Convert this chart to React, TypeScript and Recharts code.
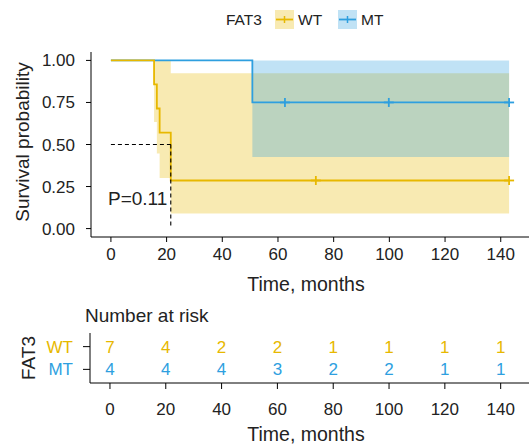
import React from "react";
import { ComposedChart, Line, Area, Scatter, XAxis, YAxis, ReferenceLine } from "recharts";

const YELLOW = "#E7B800";
const BLUE = "#2E9FDF";
const INK = "#222222";
const FONT = "'Liberation Sans', Arial, Helvetica, sans-serif";

const TIME_TICKS = [0, 20, 40, 60, 80, 100, 120, 140];
const SURV_TICKS = [0, 0.25, 0.5, 0.75, 1];
const TIME_DOMAIN = [-7.15, 150.15];

// WT (step curve + log CI)
const WT_TIME = [0, 15.5, 16.5, 17.5, 21.5, 143];
const WT_SURV = [1, 0.857, 0.714, 0.571, 0.286, 0.286];
const WT_LOWER = [1, 0.634, 0.447, 0.301, 0.089, 0.089];
const WT_UPPER = [1, 1, 1, 1, 0.923, 0.923];
const WT_CENSOR = [73.6, 143];

// MT
const MT_TIME = [0, 50.8, 143];
const MT_SURV = [1, 0.75, 0.75];
const MT_LOWER = [1, 0.426, 0.426];
const MT_UPPER = [1, 1, 1];
const MT_CENSOR = [62.5, 99.8, 143];

const MEDIAN_WT = 21.5;
const P_LABEL = "P=0.11";

// number at risk
const RISK_GROUPS = ["MT", "WT"]; // bottom row first
const WT_RISK = [7, 4, 2, 2, 1, 1, 1, 1];
const MT_RISK = [4, 4, 4, 3, 2, 2, 1, 1];

const curve = (time: number[], surv: number[], lo: number[], hi: number[]) =>
  time.map((t, i) => ({ t, s: surv[i], range: [lo[i], hi[i]] }));

const survAt = (time: number[], surv: number[], t: number) => {
  let v = surv[0];
  time.forEach((tt, i) => {
    if (tt <= t) v = surv[i];
  });
  return v;
};

const wtData = curve(WT_TIME, WT_SURV, WT_LOWER, WT_UPPER);
const mtData = curve(MT_TIME, MT_SURV, MT_LOWER, MT_UPPER);
const wtCensor = WT_CENSOR.map((t) => ({ t, s: survAt(WT_TIME, WT_SURV, t) }));
const mtCensor = MT_CENSOR.map((t) => ({ t, s: survAt(MT_TIME, MT_SURV, t) }));

const riskRows = [
  ...TIME_TICKS.map((t, i) => ({ t, row: 2, n: WT_RISK[i], color: YELLOW })),
  ...TIME_TICKS.map((t, i) => ({ t, row: 1, n: MT_RISK[i], color: BLUE })),
];

function Plus(color: string) {
  return (props: any) => {
    const { cx, cy } = props;
    if (cx == null || cy == null) return <g />;
    return (
      <g stroke={color} strokeWidth={1.8}>
        <line x1={cx - 5} x2={cx + 5} y1={cy} y2={cy} />
        <line x1={cx} x2={cx} y1={cy - 4.5} y2={cy + 4.5} />
      </g>
    );
  };
}

function RiskNumber(props: any) {
  const { cx, cy, payload } = props;
  if (cx == null || cy == null) return <g />;
  return (
    <text x={cx} y={cy} dy="0.36em" textAnchor="middle" fontSize={17} fontFamily={FONT} fill={payload.color}>
      {payload.n}
    </text>
  );
}

function RowTick(props: any) {
  const { x, y, payload } = props;
  const name = RISK_GROUPS[payload.value - 1];
  return (
    <text x={x} y={y} dy="0.36em" textAnchor="end" fontSize={17} fontFamily={FONT} fill={name === "WT" ? YELLOW : BLUE}>
      {name}
    </text>
  );
}

function Key({ color }: { color: string }) {
  return (
    <svg width={19} height={19} style={{ display: "block" }}>
      <rect x={0} y={0} width={19} height={19} fill={color} fillOpacity={0.3} />
      <line x1={1} x2={18} y1={9.5} y2={9.5} stroke={color} strokeWidth={1.8} />
      <line x1={9.5} x2={9.5} y1={6} y2={13} stroke={color} strokeWidth={1.5} />
    </svg>
  );
}

const tickStyle = { fontSize: 17, fill: INK, fontFamily: FONT };
const abs = (s: React.CSSProperties): React.CSSProperties => ({
  position: "absolute",
  fontFamily: FONT,
  color: INK,
  whiteSpace: "nowrap",
  lineHeight: 1,
  ...s,
});

export default function App() {
  return (
    <div style={{ position: "absolute", left: 0, top: 0, width: 531, height: 446, background: "#fff", overflow: "hidden" }}>
      {/* legend */}
      <div style={abs({ left: 226, top: 12, fontSize: 15.5 })}>FAT3</div>
      <div style={abs({ left: 275, top: 10 })}><Key color={YELLOW} /></div>
      <div style={abs({ left: 298, top: 12, fontSize: 15.5 })}>WT</div>
      <div style={abs({ left: 338, top: 10 })}><Key color={BLUE} /></div>
      <div style={abs({ left: 361, top: 12, fontSize: 15.5 })}>MT</div>

      {/* survival plot */}
      <div style={{ position: "absolute", left: 0, top: 0 }}>
        <ComposedChart width={531} height={300} margin={{ top: 52, right: 2, bottom: 0, left: 0 }}>
          <XAxis
            dataKey="t"
            type="number"
            domain={TIME_DOMAIN}
            ticks={TIME_TICKS}
            interval={0}
            allowDataOverflow
            height={63}
            tick={tickStyle}
            tickSize={5}
            tickMargin={6}
            axisLine={{ stroke: "#000", strokeWidth: 1 }}
            tickLine={{ stroke: "#000" }}
          />
          <YAxis
            dataKey="s"
            type="number"
            domain={[-0.05, 1.05]}
            ticks={SURV_TICKS}
            interval={0}
            allowDataOverflow
            width={91}
            tick={tickStyle}
            tickFormatter={(v: number) => v.toFixed(2)}
            tickSize={5}
            tickMargin={11}
            axisLine={{ stroke: "#000", strokeWidth: 1 }}
            tickLine={{ stroke: "#000" }}
          />
          <Area data={wtData} dataKey="range" type="stepAfter" stroke="none" fill={YELLOW} fillOpacity={0.3} isAnimationActive={false} />
          <Area data={mtData} dataKey="range" type="stepAfter" stroke="none" fill={BLUE} fillOpacity={0.3} isAnimationActive={false} />
          <Line data={mtData} dataKey="s" type="stepAfter" stroke={BLUE} strokeWidth={1.8} dot={false} activeDot={false} isAnimationActive={false} />
          <Line data={wtData} dataKey="s" type="stepAfter" stroke={YELLOW} strokeWidth={1.8} dot={false} activeDot={false} isAnimationActive={false} />
          <Scatter data={mtCensor} dataKey="s" shape={Plus(BLUE)} isAnimationActive={false} />
          <Scatter data={wtCensor} dataKey="s" shape={Plus(YELLOW)} isAnimationActive={false} />
          <ReferenceLine
            segment={[{ x: 0, y: 0.5 }, { x: MEDIAN_WT, y: 0.5 }]}
            stroke="#000"
            strokeWidth={1.1}
            strokeDasharray="4 3"
          />
          <ReferenceLine
            segment={[{ x: MEDIAN_WT, y: 0.5 }, { x: MEDIAN_WT, y: 0 }]}
            stroke="#000"
            strokeWidth={1.1}
            strokeDasharray="4 3"
          />
        </ComposedChart>
      </div>
      <div style={abs({ left: 108, top: 189, fontSize: 19 })}>{P_LABEL}</div>
      <div style={abs({ left: 22, top: 142, fontSize: 19, transform: "translate(-50%, -50%) rotate(-90deg)" })}>
        Survival probability
      </div>
      <div style={abs({ left: 306, top: 285, fontSize: 19.5, transform: "translate(-50%, -50%)" })}>Time, months</div>

      {/* risk table */}
      <div style={abs({ left: 85, top: 306, fontSize: 19 })}>Number at risk</div>
      <div style={{ position: "absolute", left: 0, top: 320 }}>
        <ComposedChart width={531} height={110} margin={{ top: 13, right: 2, bottom: 0, left: 0 }}>
          <XAxis
            dataKey="t"
            type="number"
            domain={TIME_DOMAIN}
            ticks={TIME_TICKS}
            interval={0}
            allowDataOverflow
            height={47}
            tick={tickStyle}
            tickSize={6}
            tickMargin={14}
            axisLine={{ stroke: "#000", strokeWidth: 1 }}
            tickLine={{ stroke: "#000" }}
          />
          <YAxis
            dataKey="row"
            type="number"
            domain={[0.4, 2.6]}
            ticks={[1, 2]}
            interval={0}
            width={90}
            tick={<RowTick />}
            tickSize={7}
            tickMargin={10}
            axisLine={{ stroke: "#000", strokeWidth: 1 }}
            tickLine={{ stroke: "#000" }}
          />
          <Scatter data={riskRows} dataKey="row" shape={<RiskNumber />} isAnimationActive={false} />
        </ComposedChart>
      </div>
      <div style={abs({ left: 28, top: 358, fontSize: 19, transform: "translate(-50%, -50%) rotate(-90deg)" })}>FAT3</div>
      <div style={abs({ left: 306, top: 435, fontSize: 19.5, transform: "translate(-50%, -50%)" })}>Time, months</div>
    </div>
  );
}
